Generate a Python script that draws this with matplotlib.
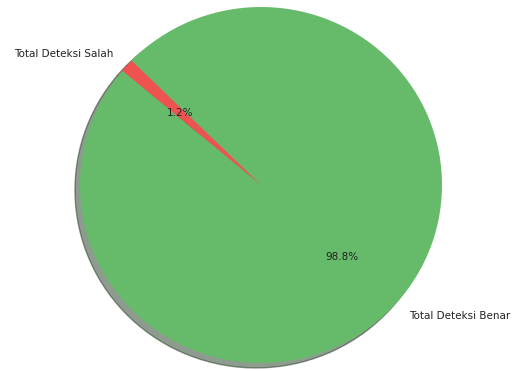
import matplotlib
matplotlib.use("Agg")
import matplotlib.pyplot as plt

labels = ["Total Deteksi Benar", "Total Deteksi Salah"]
counts = [988, 12]
colors = ["#66bb6a", "#ef5350"]

W, H = 516, 371
fig = plt.figure(figsize=(W / 100, H / 100), dpi=100)

# pie centre and radii in pixels
cx, cy = 261, 371 - 185
rx, ry = 181, 178
lim = 1.25
ax = fig.add_axes([(cx - lim * rx) / W, (cy - lim * ry) / H,
                   2 * lim * rx / W, 2 * lim * ry / H])

wedges, texts, autotexts = ax.pie(
    counts, labels=labels, colors=colors, autopct="%1.1f%%",
    startangle=140, shadow=True,
    textprops={"fontsize": 7.5, "color": "#222222"},
)
ax.set_aspect("auto")
ax.set_xlim(-lim, lim)
ax.set_ylim(-lim, lim)
ax.axis("off")

fig.savefig("out.png", dpi=100)
